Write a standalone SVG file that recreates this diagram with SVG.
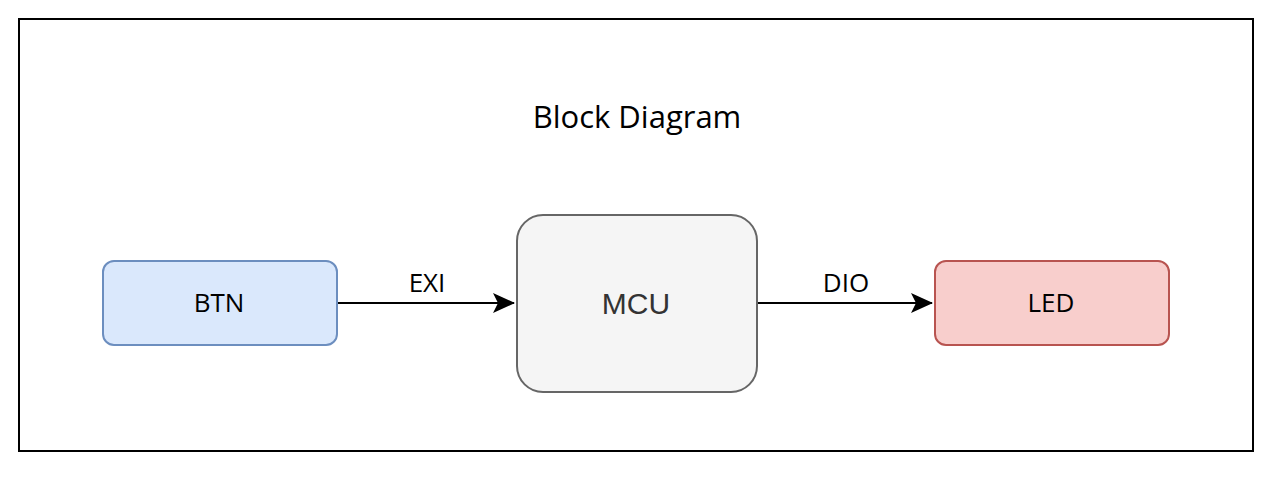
<svg xmlns="http://www.w3.org/2000/svg" width="1272" height="478" viewBox="0 0 1272 478">
<style>
.lbl{font-family:"Open Sans","Noto Sans",sans-serif;font-size:26px;fill:#000;text-anchor:middle}
.node{stroke-width:2}
.edge{stroke:#000;stroke-width:2;fill:none}
</style>
<defs>
<marker id="arr" viewBox="0 0 22 22" refX="21" refY="11" markerWidth="22" markerHeight="22" markerUnits="userSpaceOnUse" orient="auto">
<path d="M0,1 L22,11 L0,21 L5,11 Z" fill="#000"/>
</marker>
</defs>
<rect x="0" y="0" width="1272" height="478" fill="#fff"/>
<g id="frame">
<rect x="19" y="19" width="1234" height="432" fill="none" stroke="#000" stroke-width="2"/>
<text x="637" y="128" class="lbl" style="font-size:31px">Block Diagram</text>
</g>
<g id="connectors">
<path class="edge" d="M338,303 L514,303" marker-end="url(#arr)"/>
<path class="edge" d="M758,303 L932,303" marker-end="url(#arr)"/>
<text x="427" y="292" class="lbl">EXI</text>
<text x="846" y="292" class="lbl">DIO</text>
</g>
<g id="btn">
<rect class="node" x="103" y="261" width="234" height="84" rx="11" fill="#dae8fc" stroke="#6c8ebf"/>
<text x="219" y="312" class="lbl">BTN</text>
</g>
<g id="mcu">
<rect class="node" x="517" y="215" width="240" height="177" rx="26" fill="#f5f5f5" stroke="#666666"/>
<text x="636" y="314" style="font-family:'Liberation Sans',Arial,sans-serif;font-size:30px;fill:#333;text-anchor:middle">MCU</text>
</g>
<g id="led">
<rect class="node" x="935" y="261" width="234" height="84" rx="11" fill="#f8cecc" stroke="#b85450"/>
<text x="1051" y="312" class="lbl">LED</text>
</g>
</svg>
